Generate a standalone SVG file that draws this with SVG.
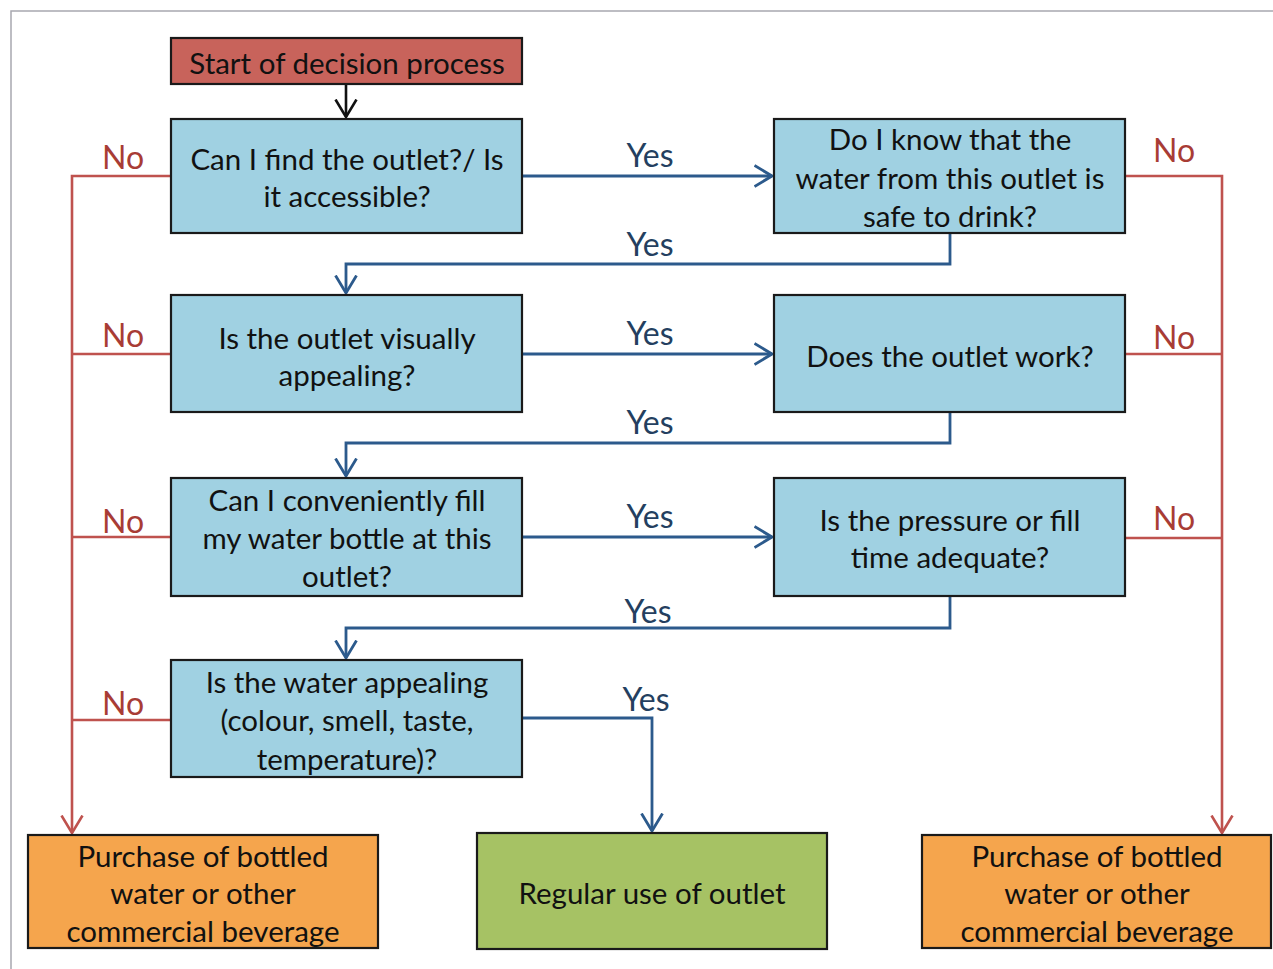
<svg xmlns="http://www.w3.org/2000/svg" width="1273" height="969" viewBox="0 0 1273 969">
<style>
.box{stroke:#1a1a1a;stroke-width:2.2}
.q{fill:#a0d1e2}
.t{font-family:Lato,"Open Sans",sans-serif;font-size:29.5px;fill:#111;text-anchor:middle}
.blue{stroke:#2c5a8c;stroke-width:2.8;fill:none}
.red{stroke:#bf524e;stroke-width:2.6;fill:none}
.lb{font-family:Lato,"Open Sans",sans-serif;font-size:32px;text-anchor:middle}
.ly{fill:#243f60}
.ln{fill:#a83c35}
</style>
<defs>
<marker id="ab" viewBox="0 0 20 24" refX="18.5" refY="12" markerWidth="20" markerHeight="24" markerUnits="userSpaceOnUse" orient="auto"><path d="M1,1.5 L18.5,12 L1,22.5" fill="none" stroke="#2c5a8c" stroke-width="2.8"/></marker>
<marker id="ar" viewBox="0 0 20 24" refX="18.5" refY="12" markerWidth="20" markerHeight="24" markerUnits="userSpaceOnUse" orient="auto"><path d="M1,1.5 L18.5,12 L1,22.5" fill="none" stroke="#bf524e" stroke-width="2.6"/></marker>
<marker id="ak" viewBox="0 0 20 24" refX="18.5" refY="12" markerWidth="20" markerHeight="24" markerUnits="userSpaceOnUse" orient="auto"><path d="M1,1.5 L18.5,12 L1,22.5" fill="none" stroke="#111" stroke-width="2.6"/></marker>
</defs>
<rect width="1273" height="969" fill="#fff"/>
<path d="M11,969 L11,11 L1273,11" fill="none" stroke="#a8a8b0" stroke-width="1.5"/>

<g id="connectors">
<path d="M346,85 L346,117" fill="none" stroke="#111" stroke-width="2.6" marker-end="url(#ak)"/>
<path class="blue" d="M523,176 L772,176" marker-end="url(#ab)"/>
<path class="blue" d="M950,234 L950,264 L346,264 L346,293" marker-end="url(#ab)"/>
<path class="blue" d="M523,354 L772,354" marker-end="url(#ab)"/>
<path class="blue" d="M950,413 L950,443 L346,443 L346,476" marker-end="url(#ab)"/>
<path class="blue" d="M523,537 L772,537" marker-end="url(#ab)"/>
<path class="blue" d="M950,597 L950,628 L346,628 L346,658" marker-end="url(#ab)"/>
<path class="blue" d="M523,718 L652,718 L652,831" marker-end="url(#ab)"/>
<path class="red" d="M171,176 L72,176 L72,833" marker-end="url(#ar)"/>
<path class="red" d="M171,354 L72,354 M171,537 L72,537 M171,720 L72,720"/>
<path class="red" d="M1126,176 L1222,176 L1222,833" marker-end="url(#ar)"/>
<path class="red" d="M1126,354 L1222,354 M1126,538 L1222,538"/>
<text class="lb ly" x="650" y="167">Yes</text>
<text class="lb ly" x="650" y="256">Yes</text>
<text class="lb ly" x="650" y="345">Yes</text>
<text class="lb ly" x="650" y="434">Yes</text>
<text class="lb ly" x="650" y="528">Yes</text>
<text class="lb ly" x="648" y="623">Yes</text>
<text class="lb ly" x="646" y="711">Yes</text>
<text class="lb ln" x="123" y="169">No</text>
<text class="lb ln" x="123" y="347">No</text>
<text class="lb ln" x="123" y="533">No</text>
<text class="lb ln" x="123" y="715">No</text>
<text class="lb ln" x="1174" y="162">No</text>
<text class="lb ln" x="1174" y="349">No</text>
<text class="lb ln" x="1174" y="530">No</text>
</g>

<g id="start">
<rect class="box" x="171" y="38" width="351" height="46" fill="#c8635b"/>
<text class="t" x="347" y="74">Start of decision process</text>
</g>
<g id="q1">
<rect class="box q" x="171" y="119" width="351" height="114"/>
<text class="t" x="347" y="170">Can I find the outlet?/ Is</text>
<text class="t" x="347" y="207">it accessible?</text>
</g>
<g id="q2">
<rect class="box q" x="774" y="119" width="351" height="114"/>
<text class="t" x="950" y="150">Do I know that the</text>
<text class="t" x="950" y="189">water from this outlet is</text>
<text class="t" x="950" y="227">safe to drink?</text>
</g>
<g id="q3">
<rect class="box q" x="171" y="295" width="351" height="117"/>
<text class="t" x="347" y="349">Is the outlet visually</text>
<text class="t" x="347" y="386">appealing?</text>
</g>
<g id="q4">
<rect class="box q" x="774" y="295" width="351" height="117"/>
<text class="t" x="950" y="367">Does the outlet work?</text>
</g>
<g id="q5">
<rect class="box q" x="171" y="478" width="351" height="118"/>
<text class="t" x="347" y="511">Can I conveniently fill</text>
<text class="t" x="347" y="549">my water bottle at this</text>
<text class="t" x="347" y="587">outlet?</text>
</g>
<g id="q6">
<rect class="box q" x="774" y="478" width="351" height="118"/>
<text class="t" x="950" y="531">Is the pressure or fill</text>
<text class="t" x="950" y="568">time adequate?</text>
</g>
<g id="q7">
<rect class="box q" x="171" y="660" width="351" height="117"/>
<text class="t" x="347" y="693">Is the water appealing</text>
<text class="t" x="347" y="731">(colour, smell, taste,</text>
<text class="t" x="347" y="770">temperature)?</text>
</g>
<g id="bottled-left">
<rect class="box" x="28" y="835" width="350" height="113" fill="#f5a54d"/>
<text class="t" x="203" y="867">Purchase of bottled</text>
<text class="t" x="203" y="904">water or other</text>
<text class="t" x="203" y="942">commercial beverage</text>
</g>
<g id="regular">
<rect class="box" x="477" y="833" width="350" height="116" fill="#a6c264"/>
<text class="t" x="652" y="904">Regular use of outlet</text>
</g>
<g id="bottled-right">
<rect class="box" x="922" y="835" width="349" height="113" fill="#f5a54d"/>
<text class="t" x="1097" y="867">Purchase of bottled</text>
<text class="t" x="1097" y="904">water or other</text>
<text class="t" x="1097" y="942">commercial beverage</text>
</g>
</svg>
